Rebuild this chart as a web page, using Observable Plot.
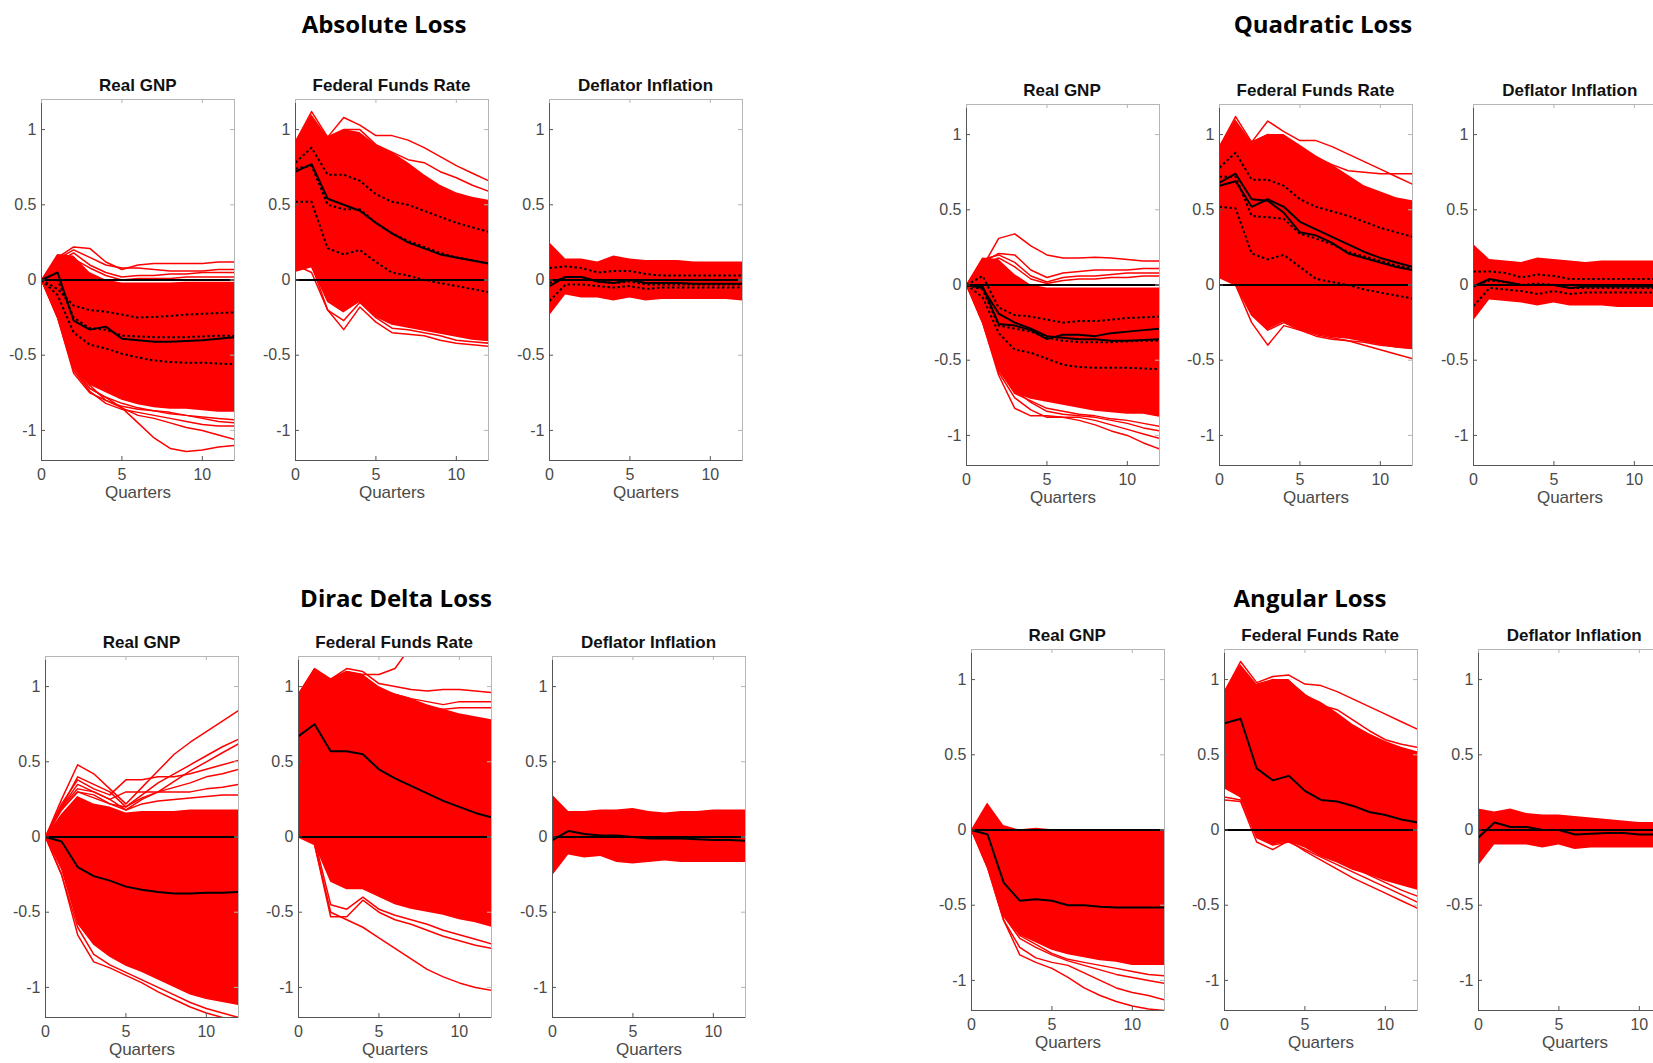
<!DOCTYPE html>
<html><head><meta charset="utf-8">
<script src="https://cdn.jsdelivr.net/npm/d3@7"></script>
<script src="https://cdn.jsdelivr.net/npm/@observablehq/plot@0.6"></script>
<style>
html,body{margin:0;padding:0;background:#fff;}
#page{position:relative;width:1653px;height:1063px;overflow:hidden;background:#fff;}
.ptitle{position:absolute;transform:translate(-50%,-50%);font-family:"Open Sans",sans-serif;font-weight:700;font-size:24px;color:#000;white-space:nowrap;}
.stitle{position:absolute;transform:translate(-50%,-50%);font-family:"Liberation Sans",Arial,sans-serif;font-weight:700;font-size:17px;color:#111;white-space:nowrap;}
.sub{position:absolute;}
.sub svg{max-width:none !important;}
</style></head><body><div id="page"></div>
<script>
// ---------------- data ----------------
const quarters = [0,1,2,3,4,5,6,7,8,9,10,11,12];
const variables = ["Real GNP","Federal Funds Rate","Deflator Inflation"];
const panelTitles = ["Absolute Loss","Quadratic Loss","Dirac Delta Loss","Angular Loss"];
const yTicks = [-1,-0.5,0,0.5,1];
const xTicks = [0,5,10];
const xLabel = "Quarters";

// Absolute loss
const absGnpLo = [0,-0.22,-0.58,-0.70,-0.75,-0.80,-0.83,-0.85,-0.86,-0.86,-0.87,-0.88,-0.88];
const absGnpHi = [0,0.17,0.16,0.05,0.00,-0.02,-0.02,-0.02,-0.02,-0.015,-0.015,-0.015,-0.015];
const absGnpSolid = [[0,0.05,-0.27,-0.33,-0.31,-0.39,-0.40,-0.41,-0.41,-0.405,-0.40,-0.39,-0.38]];
const absGnpDotted = [
  [0,-0.06,-0.17,-0.20,-0.21,-0.23,-0.25,-0.245,-0.24,-0.23,-0.225,-0.22,-0.215],
  [0,0.00,-0.25,-0.32,-0.33,-0.37,-0.375,-0.38,-0.38,-0.38,-0.375,-0.37,-0.37],
  [0,-0.10,-0.35,-0.43,-0.455,-0.49,-0.515,-0.535,-0.545,-0.55,-0.55,-0.555,-0.56]];
const absGnpOut = [
  [0,0.15,0.22,0.21,0.12,0.07,0.10,0.11,0.11,0.11,0.11,0.12,0.12],
  [0,0.14,0.20,0.15,0.10,0.08,0.08,0.07,0.06,0.06,0.06,0.07,0.07],
  [0,0.12,0.18,0.10,0.05,0.02,0.03,0.03,0.04,0.04,0.05,0.05,0.05],
  [0,0.10,0.14,0.08,0.03,0.00,0.01,0.01,0.01,0.02,0.02,0.02,0.02],
  [0,-0.25,-0.60,-0.72,-0.78,-0.85,-0.95,-1.05,-1.12,-1.14,-1.13,-1.11,-1.10],
  [0,-0.25,-0.62,-0.75,-0.80,-0.85,-0.90,-0.92,-0.95,-0.98,-1.00,-1.03,-1.06],
  [0,-0.24,-0.60,-0.74,-0.82,-0.86,-0.88,-0.90,-0.92,-0.94,-0.96,-0.97,-0.97],
  [0,-0.23,-0.58,-0.70,-0.80,-0.84,-0.86,-0.87,-0.88,-0.90,-0.91,-0.92,-0.93],
  [0,-0.23,-0.58,-0.72,-0.78,-0.82,-0.85,-0.87,-0.89,-0.90,-0.92,-0.94,-0.95]];

const absFfrLo = [0.05,0.08,-0.15,-0.22,-0.15,-0.25,-0.30,-0.32,-0.34,-0.36,-0.38,-0.40,-0.41];
const absFfrHi = [0.92,1.10,0.95,1.00,0.98,0.90,0.85,0.78,0.70,0.63,0.58,0.55,0.53];
const absFfrSolid = [[0.72,0.77,0.54,0.50,0.46,0.38,0.31,0.25,0.21,0.17,0.15,0.13,0.11]];
const absFfrDotted = [
  [0.78,0.88,0.70,0.70,0.66,0.57,0.52,0.50,0.46,0.42,0.38,0.35,0.32],
  [0.74,0.76,0.50,0.47,0.47,0.38,0.31,0.26,0.22,0.18,0.15,0.13,0.11],
  [0.52,0.52,0.21,0.17,0.20,0.12,0.05,0.03,0.00,-0.02,-0.04,-0.06,-0.08]];
const absFfrOut = [
  [0.92,1.12,0.95,1.08,1.03,0.96,0.96,0.93,0.88,0.82,0.76,0.71,0.66],
  [0.90,1.05,0.95,1.00,1.00,0.90,0.85,0.80,0.78,0.72,0.68,0.63,0.59],
  [0.10,0.05,-0.20,-0.33,-0.18,-0.28,-0.35,-0.36,-0.37,-0.40,-0.42,-0.43,-0.44],
  [0.15,0.10,-0.20,-0.27,-0.15,-0.25,-0.32,-0.33,-0.35,-0.37,-0.40,-0.41,-0.42]];

const absDefLo = [-0.24,-0.10,-0.12,-0.12,-0.14,-0.12,-0.14,-0.13,-0.13,-0.13,-0.13,-0.13,-0.14];
const absDefHi = [0.25,0.14,0.14,0.12,0.16,0.14,0.13,0.13,0.13,0.12,0.12,0.12,0.12];
const absDefSolid = [[-0.04,0.02,0.02,-0.01,-0.02,0.00,-0.02,-0.02,-0.02,-0.025,-0.025,-0.025,-0.025]];
const absDefDotted = [
  [0.08,0.09,0.08,0.05,0.06,0.06,0.04,0.03,0.03,0.03,0.03,0.03,0.03],
  [-0.02,0.02,0.02,-0.01,-0.02,-0.01,-0.03,-0.03,-0.03,-0.03,-0.03,-0.03,-0.03],
  [-0.14,-0.03,-0.03,-0.04,-0.05,-0.04,-0.06,-0.05,-0.05,-0.05,-0.05,-0.05,-0.05]];
const absDefOut = [];

// Quadratic loss
const quadGnpLo = [0,-0.22,-0.57,-0.72,-0.76,-0.78,-0.80,-0.82,-0.84,-0.85,-0.86,-0.86,-0.88];
const quadGnpHi = [0,0.18,0.17,0.07,0.00,-0.02,-0.02,-0.02,-0.02,-0.02,-0.02,-0.02,-0.02];
const quadGnpSolid = [
  [0,-0.01,-0.26,-0.27,-0.30,-0.36,-0.33,-0.33,-0.34,-0.32,-0.31,-0.30,-0.29],
  [0,-0.02,-0.19,-0.25,-0.29,-0.34,-0.35,-0.36,-0.36,-0.37,-0.37,-0.365,-0.36]];
const quadGnpDotted = [
  [0,0.06,-0.15,-0.20,-0.21,-0.23,-0.25,-0.24,-0.24,-0.23,-0.22,-0.215,-0.21],
  [0,-0.03,-0.27,-0.29,-0.31,-0.35,-0.37,-0.38,-0.38,-0.38,-0.375,-0.37,-0.37],
  [0,-0.08,-0.32,-0.43,-0.45,-0.49,-0.53,-0.545,-0.55,-0.55,-0.55,-0.555,-0.56]];
const quadGnpOut = [
  [0,0.12,0.31,0.34,0.26,0.20,0.18,0.18,0.185,0.18,0.17,0.16,0.16],
  [0,0.15,0.21,0.20,0.10,0.05,0.08,0.09,0.10,0.10,0.10,0.11,0.11],
  [0,0.17,0.20,0.15,0.06,0.02,0.05,0.06,0.06,0.07,0.08,0.08,0.08],
  [0,0.14,0.18,0.12,0.04,0.01,0.03,0.04,0.04,0.05,0.05,0.06,0.06],
  [0,-0.25,-0.60,-0.82,-0.87,-0.87,-0.88,-0.90,-0.93,-0.97,-1.00,-1.05,-1.09],
  [0,-0.25,-0.58,-0.75,-0.83,-0.88,-0.88,-0.88,-0.90,-0.93,-0.96,-0.99,-1.02],
  [0,-0.22,-0.55,-0.70,-0.78,-0.84,-0.86,-0.87,-0.88,-0.90,-0.92,-0.95,-0.97],
  [0,-0.23,-0.56,-0.72,-0.77,-0.82,-0.84,-0.86,-0.87,-0.89,-0.90,-0.92,-0.94]];

const quadFfrLo = [0.05,0.00,-0.20,-0.30,-0.25,-0.30,-0.33,-0.35,-0.36,-0.38,-0.40,-0.42,-0.43];
const quadFfrHi = [0.92,1.10,0.95,1.00,1.00,0.93,0.86,0.80,0.73,0.66,0.62,0.58,0.56];
const quadFfrSolid = [
  [0.66,0.69,0.52,0.57,0.52,0.42,0.37,0.32,0.27,0.22,0.18,0.15,0.12],
  [0.68,0.74,0.57,0.56,0.48,0.35,0.33,0.28,0.21,0.18,0.15,0.12,0.10]];
const quadFfrDotted = [
  [0.78,0.88,0.70,0.70,0.66,0.57,0.52,0.49,0.46,0.42,0.38,0.35,0.32],
  [0.72,0.72,0.46,0.45,0.44,0.34,0.31,0.27,0.22,0.19,0.16,0.13,0.11],
  [0.52,0.51,0.21,0.17,0.20,0.12,0.04,0.02,0.00,-0.03,-0.05,-0.07,-0.09]];
const quadFfrOut = [
  [0.92,1.12,0.95,1.09,1.02,0.96,0.96,0.92,0.87,0.82,0.77,0.72,0.67],
  [0.90,1.05,0.95,1.00,0.98,0.92,0.85,0.80,0.76,0.75,0.74,0.74,0.74],
  [0.05,0.00,-0.25,-0.40,-0.27,-0.30,-0.33,-0.35,-0.37,-0.40,-0.43,-0.46,-0.49],
  [0.10,0.00,-0.20,-0.30,-0.25,-0.30,-0.34,-0.36,-0.37,-0.38,-0.40,-0.41,-0.42]];

const quadDefLo = [-0.24,-0.10,-0.11,-0.12,-0.14,-0.12,-0.14,-0.14,-0.14,-0.15,-0.15,-0.15,-0.15];
const quadDefHi = [0.27,0.17,0.16,0.15,0.18,0.17,0.16,0.15,0.16,0.16,0.16,0.16,0.16];
const quadDefSolid = [[-0.01,0.04,0.02,0.00,0.00,0.00,-0.02,-0.01,-0.01,-0.01,-0.01,-0.01,-0.01]];
const quadDefDotted = [
  [0.09,0.09,0.08,0.05,0.07,0.06,0.04,0.04,0.04,0.04,0.04,0.04,0.04],
  [-0.01,0.03,0.02,0.00,0.01,0.00,-0.02,-0.02,-0.02,-0.02,-0.02,-0.02,-0.02],
  [-0.14,-0.02,-0.03,-0.04,-0.06,-0.04,-0.06,-0.05,-0.05,-0.05,-0.05,-0.05,-0.05]];
const quadDefOut = [];

// Dirac delta loss
const diracGnpLo = [0,-0.22,-0.58,-0.72,-0.80,-0.86,-0.90,-0.95,-1.00,-1.05,-1.08,-1.10,-1.12];
const diracGnpHi = [0,0.15,0.27,0.22,0.20,0.16,0.17,0.17,0.17,0.18,0.18,0.18,0.18];
const diracGnpSolid = [[0,-0.03,-0.20,-0.26,-0.29,-0.33,-0.35,-0.365,-0.375,-0.375,-0.37,-0.37,-0.365]];
const diracGnpDotted = [];
const diracGnpOut = [
  [0,0.25,0.48,0.42,0.32,0.22,0.33,0.44,0.55,0.63,0.70,0.77,0.84],
  [0,0.20,0.40,0.35,0.30,0.20,0.28,0.36,0.42,0.48,0.54,0.60,0.65],
  [0,0.20,0.35,0.30,0.25,0.18,0.25,0.30,0.37,0.44,0.50,0.56,0.62],
  [0,0.22,0.38,0.32,0.28,0.38,0.38,0.40,0.40,0.42,0.45,0.48,0.51],
  [0,0.18,0.30,0.28,0.22,0.20,0.26,0.30,0.33,0.36,0.40,0.42,0.45],
  [0,0.20,0.32,0.30,0.25,0.30,0.30,0.30,0.30,0.30,0.32,0.33,0.35],
  [0,0.19,0.30,0.26,0.22,0.18,0.22,0.24,0.25,0.26,0.27,0.28,0.28],
  [0,-0.25,-0.65,-0.83,-0.87,-0.92,-0.97,-1.03,-1.08,-1.13,-1.17,-1.20,-1.22],
  [0,-0.25,-0.60,-0.78,-0.85,-0.90,-0.95,-1.00,-1.05,-1.10,-1.14,-1.17,-1.20]];

const diracFfrLo = [0.00,-0.05,-0.30,-0.35,-0.35,-0.40,-0.45,-0.48,-0.50,-0.52,-0.55,-0.57,-0.60];
const diracFfrHi = [0.95,1.12,1.05,1.10,1.08,1.00,0.95,0.92,0.88,0.85,0.82,0.80,0.78];
const diracFfrSolid = [[0.67,0.75,0.57,0.57,0.55,0.45,0.39,0.34,0.29,0.24,0.20,0.16,0.13]];
const diracFfrDotted = [];
const diracFfrOut = [
  [0.90,1.08,1.05,1.10,1.08,1.08,1.12,1.27],
  [0.95,1.12,1.05,1.12,1.10,1.02,1.00,0.98,0.97,0.98,0.98,0.97,0.96],
  [0.90,1.05,1.00,1.05,1.05,0.98,0.95,0.92,0.90,0.88,0.90,0.90,0.90],
  [0.92,1.06,1.02,1.04,1.03,0.96,0.92,0.88,0.86,0.85,0.86,0.86,0.86],
  [0.00,-0.05,-0.50,-0.55,-0.60,-0.67,-0.74,-0.81,-0.88,-0.93,-0.97,-1.00,-1.02],
  [0.05,-0.05,-0.53,-0.53,-0.42,-0.50,-0.55,-0.58,-0.62,-0.66,-0.69,-0.72,-0.74],
  [0.05,-0.02,-0.45,-0.48,-0.40,-0.48,-0.52,-0.55,-0.58,-0.62,-0.65,-0.68,-0.71]];

const diracDefLo = [-0.26,-0.12,-0.14,-0.13,-0.17,-0.18,-0.17,-0.16,-0.17,-0.17,-0.17,-0.17,-0.17];
const diracDefHi = [0.28,0.17,0.17,0.18,0.18,0.19,0.17,0.16,0.17,0.17,0.18,0.18,0.18];
const diracDefSolid = [[-0.02,0.04,0.02,0.01,0.01,0.00,-0.01,-0.01,-0.01,-0.015,-0.02,-0.02,-0.025]];
const diracDefDotted = [];
const diracDefOut = [];

// Angular loss
const angGnpLo = [0,-0.22,-0.58,-0.70,-0.75,-0.80,-0.83,-0.85,-0.87,-0.88,-0.90,-0.90,-0.90];
const angGnpHi = [0,0.18,0.03,0.00,-0.01,-0.01,-0.01,-0.01,-0.01,-0.01,-0.01,-0.01,-0.01];
const angGnpSolid = [[0,-0.03,-0.35,-0.47,-0.46,-0.47,-0.50,-0.50,-0.51,-0.515,-0.515,-0.515,-0.515]];
const angGnpDotted = [];
const angGnpOut = [
  [0,0.05,0.00,0.00,0.01,0.00,-0.02,-0.03,-0.02,-0.02,-0.02,-0.02,-0.02],
  [0,-0.25,-0.60,-0.83,-0.88,-0.92,-0.98,-1.05,-1.10,-1.14,-1.17,-1.19,-1.20],
  [0,-0.25,-0.60,-0.78,-0.85,-0.88,-0.90,-0.95,-1.00,-1.05,-1.08,-1.10,-1.13],
  [0,-0.23,-0.57,-0.72,-0.78,-0.83,-0.87,-0.90,-0.93,-0.96,-0.98,-1.00,-1.02],
  [0,-0.22,-0.56,-0.70,-0.76,-0.82,-0.86,-0.88,-0.90,-0.92,-0.94,-0.96,-0.97]];

const angFfrLo = [0.28,0.22,-0.05,-0.10,-0.08,-0.12,-0.18,-0.22,-0.27,-0.30,-0.34,-0.37,-0.40];
const angFfrHi = [0.92,1.10,0.97,1.00,1.00,0.90,0.85,0.78,0.70,0.64,0.59,0.55,0.52];
const angFfrSolid = [[0.71,0.74,0.41,0.33,0.36,0.26,0.20,0.19,0.16,0.12,0.10,0.07,0.05]];
const angFfrDotted = [];
const angFfrOut = [
  [0.92,1.12,0.98,1.02,1.03,0.97,0.96,0.92,0.87,0.82,0.77,0.72,0.67],
  [0.90,1.05,0.95,1.00,0.99,0.90,0.83,0.80,0.73,0.66,0.60,0.57,0.55],
  [0.20,0.19,-0.08,-0.13,-0.07,-0.14,-0.20,-0.26,-0.32,-0.37,-0.42,-0.47,-0.52],
  [0.22,0.20,-0.05,-0.10,-0.08,-0.13,-0.18,-0.23,-0.28,-0.33,-0.38,-0.43,-0.48],
  [0.28,0.22,0.00,-0.08,-0.06,-0.10,-0.15,-0.20,-0.25,-0.30,-0.35,-0.40,-0.44]];

const angDefLo = [-0.24,-0.10,-0.10,-0.10,-0.12,-0.10,-0.13,-0.12,-0.12,-0.12,-0.12,-0.12,-0.12];
const angDefHi = [0.14,0.12,0.14,0.11,0.10,0.10,0.09,0.08,0.07,0.06,0.05,0.05,0.05];
const angDefSolid = [[-0.05,0.05,0.02,0.02,0.00,0.00,-0.03,-0.025,-0.02,-0.02,-0.03,-0.03,-0.03]];
const angDefDotted = [];
const angDefOut = [];

// ---------------- layout ----------------
const FW = 193, FH = 361, ML = 42, MR = 3, MT = 3, MB = 52;
const panels = [
  {title: panelTitles[0], tx: 384, ty: 23, top: 98.5, lefts: [41.3, 295, 549],
   subs: [[absGnpLo,absGnpHi,absGnpSolid,absGnpDotted,absGnpOut],
          [absFfrLo,absFfrHi,absFfrSolid,absFfrDotted,absFfrOut],
          [absDefLo,absDefHi,absDefSolid,absDefDotted,absDefOut]]},
  {title: panelTitles[1], tx: 1323, ty: 23, top: 104.3, lefts: [965.5, 1219, 1473.3],
   subs: [[quadGnpLo,quadGnpHi,quadGnpSolid,quadGnpDotted,quadGnpOut],
          [quadFfrLo,quadFfrHi,quadFfrSolid,quadFfrDotted,quadFfrOut],
          [quadDefLo,quadDefHi,quadDefSolid,quadDefDotted,quadDefOut]]},
  {title: panelTitles[2], tx: 396, ty: 597, top: 656, lefts: [45, 297.7, 552],
   subs: [[diracGnpLo,diracGnpHi,diracGnpSolid,diracGnpDotted,diracGnpOut],
          [diracFfrLo,diracFfrHi,diracFfrSolid,diracFfrDotted,diracFfrOut],
          [diracDefLo,diracDefHi,diracDefSolid,diracDefDotted,diracDefOut]]},
  {title: panelTitles[3], tx: 1310, ty: 597, top: 648.7, lefts: [970.7, 1223.7, 1477.7],
   subs: [[angGnpLo,angGnpHi,angGnpSolid,angGnpDotted,angGnpOut],
          [angFfrLo,angFfrHi,angFfrSolid,angFfrDotted,angFfrOut],
          [angDefLo,angDefHi,angDefSolid,angDefDotted,angDefOut]]}
];

const toRows = list => list.flatMap((arr, k) => arr.map((v, i) => ({q: quarters[i], v, id: k})));
const fmt = d => String(d);
const RED = "#ff0000", AX = "#555555", BOX = "#b5b5b5", TXT = "#4a4a4a";

function subplot([lo, hi, solid, dotted, out]) {
  const band = quarters.map((q, i) => ({q, lo: lo[i], hi: hi[i]}));
  return Plot.plot({
    width: ML + FW + MR, height: MT + FH + MB,
    marginLeft: ML, marginRight: MR, marginTop: MT, marginBottom: MB,
    x: {domain: [0, 12], axis: null},
    y: {domain: [-1.2, 1.2], axis: null},
    style: {fontFamily: "'Liberation Sans', Arial, sans-serif", fontSize: "16px", color: TXT, background: "transparent", overflow: "visible", maxWidth: "none"},
    marks: [
      Plot.areaY(band, {x: "q", y1: "lo", y2: "hi", fill: RED, clip: true}),
      Plot.line(toRows(out), {x: "q", y: "v", z: "id", stroke: RED, strokeWidth: 1.5, clip: true}),
      Plot.ruleY([0], {stroke: "#000", strokeWidth: 2}),
      Plot.line(toRows(dotted), {x: "q", y: "v", z: "id", stroke: "#000", strokeWidth: 2, strokeDasharray: "2.5,2.5", strokeLinecap: "butt", clip: true}),
      Plot.line(toRows(solid), {x: "q", y: "v", z: "id", stroke: "#000", strokeWidth: 2, clip: true}),
      Plot.frame({stroke: BOX}),
      Plot.ruleX([0], {stroke: AX}),
      Plot.ruleY([-1.2], {stroke: AX}),
      Plot.ruleY(yTicks, {stroke: AX, insetRight: FW - 4}),
      Plot.ruleY(yTicks, {stroke: BOX, insetLeft: FW - 4}),
      Plot.ruleX(xTicks, {stroke: AX, insetTop: FH - 4}),
      Plot.ruleX(xTicks, {stroke: BOX, insetBottom: FH - 4}),
      Plot.axisX({ticks: xTicks, tickSize: 0, tickPadding: 8, tickFormat: fmt, label: null, fontSize: 16, fill: TXT}),
      Plot.axisY({ticks: yTicks, tickSize: 0, tickPadding: 5, tickFormat: fmt, label: null, fontSize: 16, fill: TXT}),
      Plot.text([xLabel], {text: d => d, frameAnchor: "bottom", dy: 37, fontSize: 17, fill: TXT})
    ]
  });
}

const page = document.getElementById("page");
for (const p of panels) {
  const t = document.createElement("div");
  t.className = "ptitle"; t.textContent = p.title;
  t.style.left = p.tx + "px"; t.style.top = p.ty + "px";
  page.appendChild(t);
  p.subs.forEach((s, j) => {
    const wrap = document.createElement("div");
    wrap.className = "sub";
    wrap.style.left = (p.lefts[j] - ML) + "px";
    wrap.style.top = (p.top - MT) + "px";
    wrap.style.width = (ML + FW + MR) + "px";
    wrap.style.height = (MT + FH + MB) + "px";
    const svg = subplot(s);
    svg.style.maxWidth = "none";
    wrap.appendChild(svg);
    page.appendChild(wrap);
    const st = document.createElement("div");
    st.className = "stitle"; st.textContent = variables[j];
    st.style.left = (p.lefts[j] + FW / 2) + "px";
    st.style.top = (p.top - 13) + "px";
    page.appendChild(st);
  });
}
</script></body></html>
